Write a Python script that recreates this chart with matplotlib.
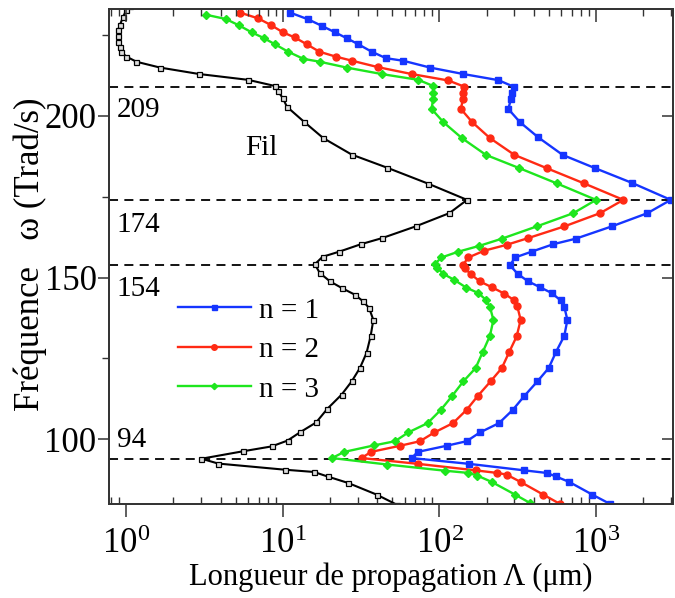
import matplotlib
matplotlib.use("Agg")
import matplotlib.pyplot as plt
from matplotlib.ticker import LogLocator, MultipleLocator, NullFormatter

plt.rcParams['font.family'] = ['Liberation Serif', 'DejaVu Serif']
plt.rcParams['mathtext.fontset'] = 'custom'
plt.rcParams['mathtext.rm'] = 'Liberation Serif'
plt.rcParams['mathtext.it'] = 'Liberation Serif:italic'

# ---- data ----
fil_x = [1.05, 1.0, 0.954, 0.909, 0.886, 0.886, 0.886, 0.909, 0.922, 1.0, 1.16, 1.64, 2.92, 6.0, 8.9, 9.33,
         10.0, 10.6, 13.6, 18.1, 27.5, 46, 84.8, 150, 115.6, 70.4, 43.1, 31.5, 22.9, 17.9, 16.0, 17.2,
         20, 23.9, 28.8, 32.6, 35.5, 37.8, 36.3, 34.2, 31, 27.5, 23.7, 19.2, 16.3, 12.8, 10.7, 8.47,
         5.57, 3.02, 3.86, 10.3, 15.8, 19.3, 26.1, 39.7, 53.3]
fil_y = [234.0, 232.7, 230.6, 228.0, 226.5, 224.5, 222.9, 221.4, 219.8, 218.3, 216.7, 214.9, 212.9, 211.1,
         209.2, 207.5, 205.4, 202.8, 198.2, 193.1, 188.0, 184.0, 179.0, 174.0, 169.9, 165.8, 162.2,
         160.3, 158.0, 156.4, 154.1, 151.4, 148.8, 146.7, 144.7, 142.6, 140.6, 136.9, 131.8, 126.7,
         122.0, 117.9, 113.8, 109.4, 105.2, 102.1, 99.6, 97.8, 96.3, 94.0, 92.5, 90.6, 89.9, 88.5,
         86.5, 82.9, 79.8]

n1_x = [11.1, 14.5, 17.7, 21.5, 25.5, 30.3, 36.9, 45.5, 58.7, 87, 142, 238, 297, 289, 286, 275, 327, 428,
        612, 986, 1706, 3000, 2130, 1259, 741, 533, 388, 304, 282, 316, 369, 439, 521, 595, 627, 656,
        627, 555, 498, 422, 347, 294, 240, 181, 149, 111, 72.6, 66.4, 155, 348, 484, 555, 675, 946, 1230]
n1_y = [231.9, 229.8, 227.8, 225.8, 224.0, 222.1, 219.8, 217.8, 217.0, 214.9, 212.9, 211.0, 209.0, 207.0,
        205.1, 202.1, 198.0, 193.3, 187.9, 183.8, 179.2, 174.0, 169.9, 165.8, 162.0, 160.3, 158.0,
        156.2, 153.8, 151.1, 148.8, 147.0, 145.2, 142.9, 140.9, 136.9, 132.0, 127.0, 122.0, 117.9,
        113.3, 109.1, 105.0, 102.1, 99.4, 98.0, 96.1, 94.2, 92.4, 90.4, 89.6, 88.5, 86.8, 82.9, 80.0]

n2_x = [5.31, 6.95, 8.34, 10.0, 11.9, 14.2, 17.1, 21.7, 27.7, 40.7, 66.4, 114, 144, 141, 141, 137, 162,
        210, 301, 484, 838, 1494, 1061, 627, 369, 268, 193, 153, 141, 145, 158, 181, 216, 260, 297,
        314, 330, 311, 279, 250, 212, 175, 149, 122, 92.6, 75, 56, 36.5, 31.8, 73.2, 170, 234, 268,
        330, 460, 589]
n2_y = [231.9, 230.1, 228.1, 225.8, 224.2, 222.1, 219.8, 218.3, 217.0, 215.0, 212.9, 210.9, 209.0, 207.0,
        205.1, 202.1, 198.0, 193.1, 187.9, 183.8, 179.1, 174.0, 169.9, 165.8, 162.2, 160.1, 158.3,
        156.2, 153.9, 152.9, 151.1, 148.8, 147.0, 145.0, 143.1, 141.1, 136.9, 131.8, 127.0, 122.0,
        117.9, 113.3, 109.1, 105.0, 102.1, 99.4, 98.0, 96.1, 94.2, 92.4, 90.4, 89.6, 89.1, 86.8,
        82.9, 80.0]

n3_x = [3.25, 4.32, 5.26, 6.31, 7.56, 8.89, 10.8, 13.5, 17.2, 25.5, 42.7, 73.2, 91.3, 91, 91, 89, 106,
        139, 198, 324, 561, 1000, 716, 418, 250, 180, 132, 103, 93.5, 97, 106, 124, 148, 177, 198,
        210, 221, 210, 189, 170, 142, 120, 102, 84, 63.1, 52, 38.1, 24.6, 20.6, 46.4, 108, 153, 174,
        216, 304, 379]
n3_y = [231.2, 229.9, 227.9, 225.8, 224.0, 222.1, 219.8, 217.6, 216.7, 214.9, 212.9, 211.1, 209.2, 207.0,
        205.1, 202.1, 198.0, 193.1, 187.9, 183.8, 179.1, 174.0, 169.9, 165.8, 162.0, 159.8, 158.0,
        156.2, 154.2, 152.9, 151.1, 149.3, 146.9, 145.2, 143.1, 140.9, 136.9, 132.0, 127.0, 122.0,
        117.9, 113.3, 109.1, 105.0, 102.1, 99.4, 98.1, 96.1, 94.2, 92.2, 90.3, 89.6, 88.8, 86.8,
        82.9, 80.3]

gap_freqs = [209, 174, 154, 94]
gap_labels = ["209", "174", "154", "94"]
gap_label_y = [201.8, 166.3, 146.5, 99.9]
series_labels = ["n = 1", "n = 2", "n = 3"]
xlabel = "Longueur de propagation Λ (μm)"
ylabel = "Fréquence   ω (Trad/s)"

# ---- figure ----
fig = plt.figure(figsize=(6.75, 5.98), dpi=100)
ax = fig.add_axes([109/675, 1 - 504/598, (673-109)/675, (504-9)/598])

for yv in gap_freqs:
    ax.axhline(yv, color='black', lw=1.3, ls=(0, (5, 3.5)), zorder=1)

ax.plot(fil_x, fil_y, color='black', lw=1.5, marker='s', ms=3.6, mfc='#dddddd', mec='black', mew=0.9, zorder=3)
ax.plot(n1_x, n1_y, color='#1535ff', lw=1.7, marker='s', ms=4.5, label=series_labels[0], zorder=4)
ax.plot(n2_x, n2_y, color='#ff2a14', lw=1.7, marker='o', ms=5, label=series_labels[1], zorder=4)
ax.plot(n3_x, n3_y, color='#1ee61e', lw=1.7, marker='D', ms=4, label=series_labels[2], zorder=4)

ax.set_xscale('log')
ax.set_xlim(0.775, 3100)
ax.set_ylim(80, 233)

ax.xaxis.set_major_locator(LogLocator(base=10, numticks=10))
ax.xaxis.set_minor_locator(LogLocator(base=10, subs=range(2, 10), numticks=100))
ax.xaxis.set_minor_formatter(NullFormatter())
ax.yaxis.set_major_locator(MultipleLocator(50))
ax.yaxis.set_minor_locator(MultipleLocator(25))

for sp in ax.spines.values():
    sp.set_linewidth(1.1)
    sp.set_color('#333333')

ax.tick_params(axis='x', which='major', direction='out', length=9, width=1.1, labelsize=25, pad=8, color='#333333')
ax.tick_params(axis='x', which='minor', direction='in', length=5, width=1.0, color='#333333')
ax.tick_params(axis='y', which='major', direction='out', length=8, width=1.1, labelsize=25, pad=1, color='#333333')
ax.tick_params(axis='y', which='minor', direction='out', length=5, width=1.0, color='#333333')

# mirrored ticks on top/right (inward)
axt = ax.twiny()
axt.set_xscale('log')
axt.set_xlim(ax.get_xlim())
axt.xaxis.set_major_locator(LogLocator(base=10, numticks=10))
axt.xaxis.set_minor_locator(LogLocator(base=10, subs=range(2, 10), numticks=100))
axt.tick_params(axis='x', which='major', direction='in', length=9, width=1.1, labeltop=False, color='#333333')
axt.tick_params(axis='x', which='minor', direction='in', length=5, width=1.0, color='#333333')
axr = ax.twinx()
axr.set_ylim(ax.get_ylim())
axr.yaxis.set_major_locator(MultipleLocator(50))
axr.yaxis.set_minor_locator(MultipleLocator(25))
axr.tick_params(axis='y', which='major', direction='in', length=8, width=1.1, labelright=False, color='#333333')
axr.tick_params(axis='y', which='minor', direction='in', length=0)
for a in (axt, axr):
    for sp in a.spines.values():
        sp.set_linewidth(1.1)
        sp.set_color('#333333')

ax.set_xlabel(xlabel, fontsize=22, labelpad=1)
ax.set_ylabel(ylabel, fontsize=25)
ax.yaxis.set_label_coords(-0.11, 0.505)

for lab, yv in zip(gap_labels, gap_label_y):
    ax.text(0.87, yv, lab, fontsize=21, ha='left', va='center')
ax.text(7.3, 190, "Fil", fontsize=21, ha='center', va='center')

leg = ax.legend(loc='upper left', bbox_to_anchor=(0.122, 0.418), frameon=False, fontsize=21,
                handlelength=2.5, handletextpad=0.3, labelspacing=0.45, borderaxespad=0, borderpad=0,
                markerscale=0.8)

fig.savefig("out.png", dpi=100)
